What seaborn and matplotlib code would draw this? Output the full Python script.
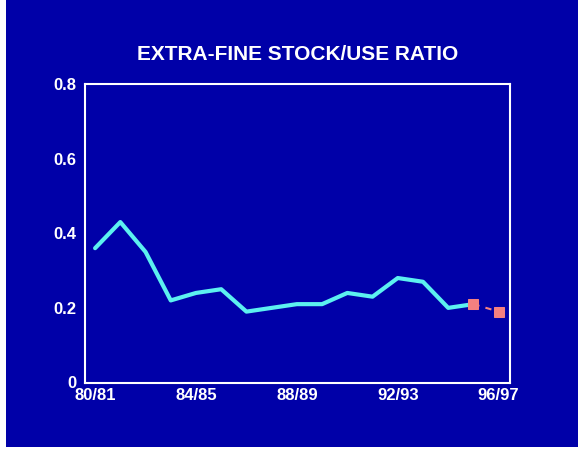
import numpy as np
import pandas as pd
import matplotlib.pyplot as plt
import seaborn as sns
from matplotlib.patches import Rectangle
from matplotlib.ticker import MultipleLocator

# crop years and stock/use ratio
seasons = ["80/81", "81/82", "82/83", "83/84", "84/85", "85/86", "86/87", "87/88",
           "88/89", "89/90", "90/91", "91/92", "92/93", "93/94", "94/95", "95/96"]
ratio = [0.36, 0.43, 0.35, 0.22, 0.24, 0.25, 0.19, 0.20,
         0.21, 0.21, 0.24, 0.23, 0.28, 0.27, 0.20, 0.21]
# estimate / forecast part
fc_seasons = ["95/96", "96/97"]
fc_ratio = [0.21, 0.19]
tick_labels = ["80/81", "84/85", "88/89", "92/93", "96/97"]

all_seasons = seasons + fc_seasons[1:]
pos = {s: i for i, s in enumerate(all_seasons)}

hist = pd.DataFrame({"x": [pos[s] for s in seasons], "ratio": ratio})
fc = pd.DataFrame({"x": [pos[s] for s in fc_seasons], "ratio": fc_ratio})

BLUE = "#0000A8"
CYAN = "#5CF0F0"
SALMON = "#F48080"

sns.set_style("white")
plt.rcParams["font.family"] = ["Liberation Sans", "DejaVu Sans"]

fig = plt.figure(figsize=(5.78, 4.5), dpi=100, facecolor="white")
# blue panel with thin white strip on left and bottom
fig.patches.append(Rectangle((6 / 578, 3 / 450), 1, 1, transform=fig.transFigure,
                             facecolor=BLUE, edgecolor="none", zorder=-1))

ax = fig.add_axes([85 / 578, 1 - 382.5 / 450, 425 / 578, 298.5 / 450])
ax.set_facecolor(BLUE)

sns.lineplot(data=hist, x="x", y="ratio", color=CYAN, linewidth=3, ax=ax)
sns.lineplot(data=fc, x="x", y="ratio", color=SALMON, linewidth=1.5,
             linestyle=(0, (3, 3)), marker="s", markersize=7,
             markeredgecolor=SALMON, ax=ax)

ax.set_xlim(-0.4, 16.45)
ax.set_ylim(0, 0.8)
ax.set_xticks([pos[s] for s in tick_labels])
ax.set_xticklabels(tick_labels)
ax.xaxis.set_minor_locator(MultipleLocator(1))
ax.set_yticks([0, 0.2, 0.4, 0.6, 0.8])
ax.set_yticklabels(["0", "0.2", "0.4", "0.6", "0.8"])
ax.yaxis.set_minor_locator(MultipleLocator(0.1))

ax.tick_params(which="both", direction="in", colors="white", labelcolor="white",
               labelsize=12, width=1)
ax.tick_params(which="major", length=7)
ax.tick_params(which="minor", length=4)
ax.tick_params(axis="x", pad=4)
ax.tick_params(axis="y", pad=6)
for lab in ax.get_xticklabels() + ax.get_yticklabels():
    lab.set_fontweight("bold")

for sp in ax.spines.values():
    sp.set_color("white")
    sp.set_linewidth(1.5)

ax.set_xlabel("")
ax.set_ylabel("")

fig.text(298 / 578, 1 - 55 / 450, "EXTRA-FINE STOCK/USE RATIO", color="white",
         fontsize=15, fontweight="bold", ha="center", va="center")

fig.savefig("out.png", dpi=100, facecolor=fig.get_facecolor())
